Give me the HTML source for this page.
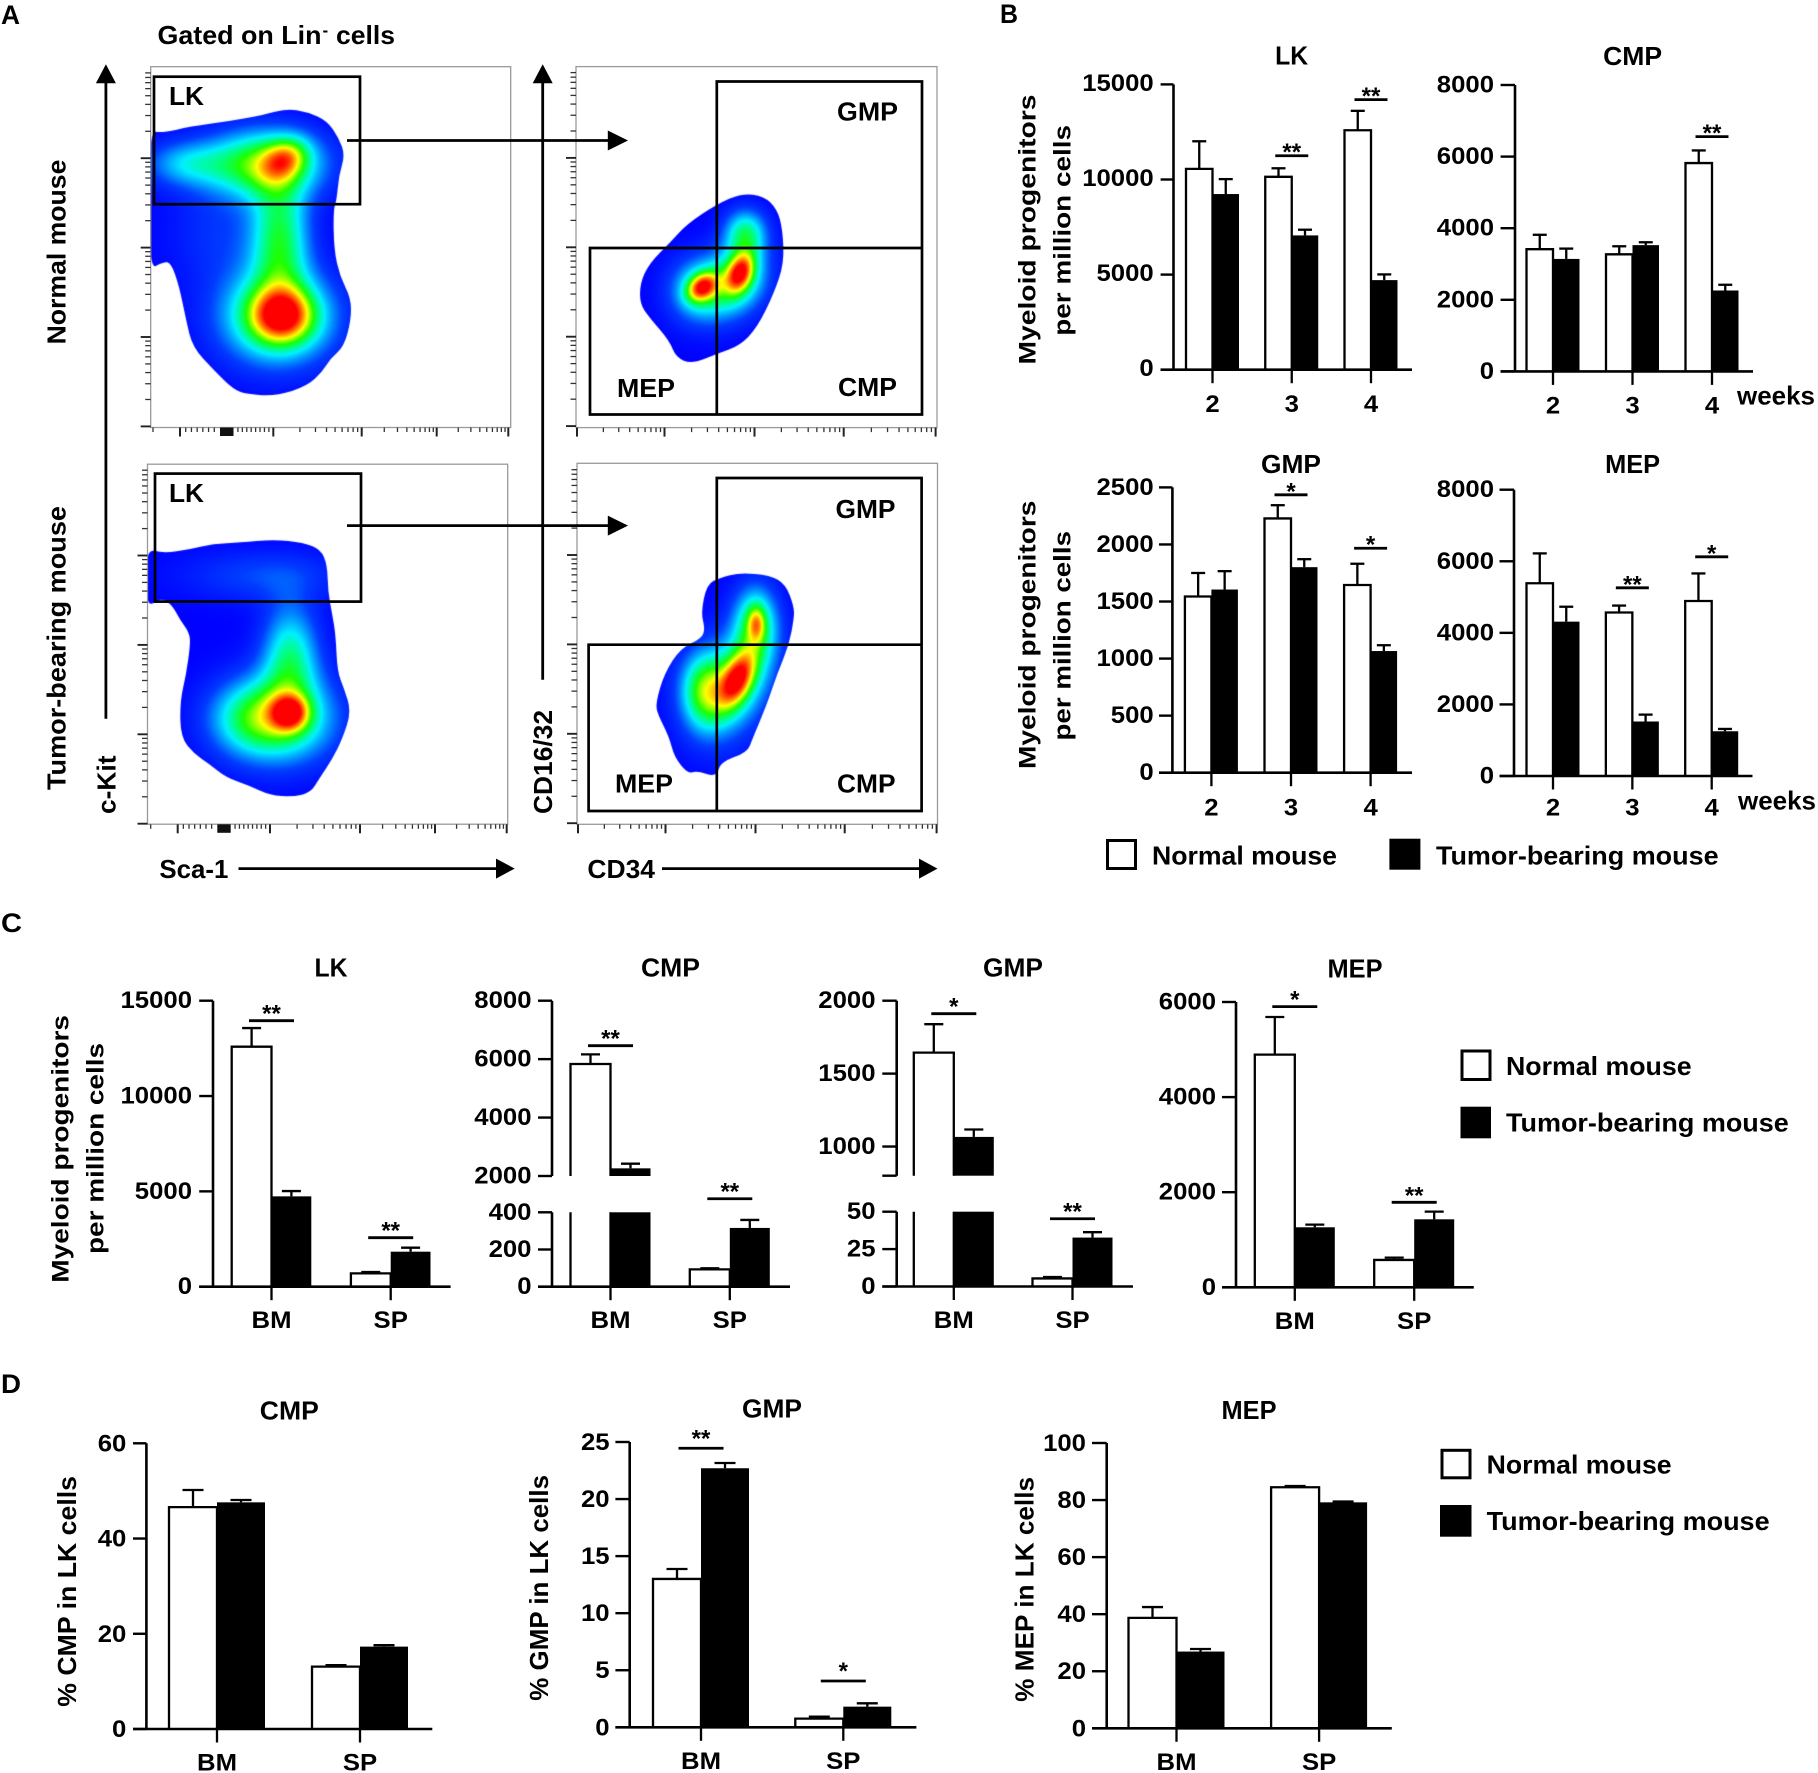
<!DOCTYPE html>
<html lang="en">
<head>
<meta charset="utf-8">
<title>Myeloid progenitors in normal and tumor-bearing mice</title>
<style>
html,body{margin:0;padding:0;background:#fff}
#figure{position:relative;width:1818px;height:1773px;overflow:hidden;background:#fff}
canvas{position:absolute;display:block}
svg{position:absolute;left:0;top:0}
text{font-family:"Liberation Sans",sans-serif;font-weight:bold;fill:#000}
.lb{font-size:26px}
.yt{font-size:24.5px}
.pl{font-size:27px}
.ln{stroke:#000;fill:none}
</style>
</head>
<body>
<div id="figure">
<canvas id="flow-tl" width="362" height="362" style="left:150px;top:66px"></canvas>
<canvas id="flow-tr" width="362" height="362" style="left:576px;top:66px"></canvas>
<canvas id="flow-bl" width="361" height="362" style="left:147px;top:463px"></canvas>
<canvas id="flow-br" width="362" height="362" style="left:577px;top:463px"></canvas>
<svg id="art" width="1818" height="1773" viewBox="0 0 1818 1773">
  <!-- Panel letters -->
  <text class="pl" x="1" y="24" textLength="19" lengthAdjust="spacingAndGlyphs">A</text>
  <text class="pl" x="1000" y="23" textLength="18" lengthAdjust="spacingAndGlyphs">B</text>
  <text class="pl" x="1" y="932" textLength="21" lengthAdjust="spacingAndGlyphs">C</text>
  <text class="pl" x="1" y="1393" textLength="20" lengthAdjust="spacingAndGlyphs">D</text>

  <!-- Panel A -->
  <g id="panel-a">
    <text class="lb" x="157.5" y="44" textLength="164" lengthAdjust="spacingAndGlyphs">Gated on Lin</text>
    <text x="322.5" y="36" style="font-size:17px">-</text>
    <text class="lb" x="336" y="44" textLength="59" lengthAdjust="spacingAndGlyphs">cells</text>

    <rect x="150.7" y="66.7" width="360" height="360.8" fill="none" stroke="#9a9a9a" stroke-width="1.3"/>
    <rect x="147.5" y="464.2" width="360.2" height="360" fill="none" stroke="#9a9a9a" stroke-width="1.3"/>
    <rect x="576" y="66.6" width="361" height="361" fill="none" stroke="#9a9a9a" stroke-width="1.3"/>
    <rect x="577" y="463.3" width="360.5" height="361" fill="none" stroke="#9a9a9a" stroke-width="1.3"/>
    <g id="flow-ticks"></g>

    <rect class="ln" x="154" y="76.7" width="206" height="127.5" stroke-width="2.7"/>
    <rect class="ln" x="155" y="473.6" width="206" height="128" stroke-width="2.7"/>
    <text class="lb" x="169" y="105" textLength="35" lengthAdjust="spacingAndGlyphs">LK</text>
    <text class="lb" x="169" y="502" textLength="35" lengthAdjust="spacingAndGlyphs">LK</text>

    <path class="ln" d="M716.8 248V81.5H922V414.5H590V248H922M716.8 248V414.5" stroke-width="2.7"/>
    <path class="ln" d="M716.8 644.7V478H921.6V811H588.6V644.7H921.6M716.8 644.7V811" stroke-width="2.7"/>
    <text class="lb" x="837" y="120.5" textLength="61" lengthAdjust="spacingAndGlyphs">GMP</text>
    <text class="lb" x="838" y="396" textLength="59" lengthAdjust="spacingAndGlyphs">CMP</text>
    <text class="lb" x="617" y="397" textLength="58" lengthAdjust="spacingAndGlyphs">MEP</text>
    <text class="lb" x="835.5" y="518" textLength="60" lengthAdjust="spacingAndGlyphs">GMP</text>
    <text class="lb" x="837" y="792.5" textLength="58.5" lengthAdjust="spacingAndGlyphs">CMP</text>
    <text class="lb" x="615" y="792.5" textLength="58" lengthAdjust="spacingAndGlyphs">MEP</text>

    <g>
      <line class="ln" x1="105.9" y1="718.7" x2="105.9" y2="80" stroke-width="2.8"/>
      <polygon points="105.9,64.3 115.9,83.2 95.9,83.2"/>
      <line class="ln" x1="542.7" y1="679.7" x2="542.7" y2="80" stroke-width="2.8"/>
      <polygon points="542.7,64.3 552.7,83.2 532.7,83.2"/>
      <line class="ln" x1="347" y1="140.5" x2="610" y2="140.5" stroke-width="2.8"/>
      <polygon points="628,140.5 607.8,130.5 607.8,150.5"/>
      <line class="ln" x1="347" y1="525.6" x2="610" y2="525.6" stroke-width="2.8"/>
      <polygon points="628,525.6 607.8,515.6 607.8,535.6"/>
      <line class="ln" x1="238.5" y1="868.6" x2="498" y2="868.6" stroke-width="2.8"/>
      <polygon points="514.7,868.6 496,858.6 496,878.6"/>
      <line class="ln" x1="662" y1="868.6" x2="921" y2="868.6" stroke-width="2.8"/>
      <polygon points="937.5,868.6 919,858.6 919,878.6"/>
    </g>

    <text class="lb" transform="translate(65.7,344.4) rotate(-90)" textLength="184.8" lengthAdjust="spacingAndGlyphs">Normal mouse</text>
    <text class="lb" transform="translate(65.7,790) rotate(-90)" textLength="284" lengthAdjust="spacingAndGlyphs">Tumor-bearing mouse</text>
    <text class="lb" transform="translate(115.4,814) rotate(-90)" textLength="58.5" lengthAdjust="spacingAndGlyphs">c-Kit</text>
    <text class="lb" transform="translate(552,814) rotate(-90)" textLength="104" lengthAdjust="spacingAndGlyphs">CD16/32</text>
    <text class="lb" x="159.4" y="878" textLength="69" lengthAdjust="spacingAndGlyphs">Sca-1</text>
    <text class="lb" x="587.4" y="878" textLength="67.6" lengthAdjust="spacingAndGlyphs">CD34</text>
  </g>

  <!-- Panel B -->
  <g id="panel-b">
    <text class="lb" x="1291.6" y="64.5" text-anchor="middle" textLength="33" lengthAdjust="spacingAndGlyphs">LK</text>
    <text class="lb" x="1632.6" y="64.9" text-anchor="middle" textLength="59" lengthAdjust="spacingAndGlyphs">CMP</text>
    <text class="lb" x="1291" y="473" text-anchor="middle" textLength="60" lengthAdjust="spacingAndGlyphs">GMP</text>
    <text class="lb" x="1632.6" y="473" text-anchor="middle" textLength="55" lengthAdjust="spacingAndGlyphs">MEP</text>
    <text class="yt" transform="translate(1035.3,364.5) rotate(-90)" textLength="270" lengthAdjust="spacingAndGlyphs">Myeloid progenitors</text>
    <text class="yt" transform="translate(1070.5,335.8) rotate(-90)" textLength="210.8" lengthAdjust="spacingAndGlyphs">per million cells</text>
    <text class="yt" transform="translate(1035.3,769) rotate(-90)" textLength="268.4" lengthAdjust="spacingAndGlyphs">Myeloid progenitors</text>
    <text class="yt" transform="translate(1070.5,740.5) rotate(-90)" textLength="209.5" lengthAdjust="spacingAndGlyphs">per million cells</text>
    <text class="lb" x="1737" y="404.7" textLength="78" lengthAdjust="spacingAndGlyphs">weeks</text>
    <text class="lb" x="1738" y="809.4" textLength="78" lengthAdjust="spacingAndGlyphs">weeks</text>
    <g id="chart-b-lk"></g>
    <g id="chart-b-cmp"></g>
    <g id="chart-b-gmp"></g>
    <g id="chart-b-mep"></g>
    <g>
      <rect x="1107.5" y="840.5" width="28" height="28" fill="#fff" stroke="#000" stroke-width="3"/>
      <text class="lb" x="1152" y="864.5" textLength="185" lengthAdjust="spacingAndGlyphs">Normal mouse</text>
      <rect x="1389.4" y="838.7" width="31" height="31" fill="#000"/>
      <text class="lb" x="1436" y="864.5" textLength="282.6" lengthAdjust="spacingAndGlyphs">Tumor-bearing mouse</text>
    </g>
  </g>

  <!-- Panel C -->
  <g id="panel-c">
    <text class="lb" x="331" y="976.7" text-anchor="middle" textLength="33" lengthAdjust="spacingAndGlyphs">LK</text>
    <text class="lb" x="670.5" y="976.7" text-anchor="middle" textLength="59" lengthAdjust="spacingAndGlyphs">CMP</text>
    <text class="lb" x="1013" y="976.7" text-anchor="middle" textLength="60" lengthAdjust="spacingAndGlyphs">GMP</text>
    <text class="lb" x="1355" y="977.5" text-anchor="middle" textLength="55" lengthAdjust="spacingAndGlyphs">MEP</text>
    <text class="yt" transform="translate(68.5,1282.7) rotate(-90)" textLength="267.7" lengthAdjust="spacingAndGlyphs">Myeloid progenitors</text>
    <text class="yt" transform="translate(103.5,1254) rotate(-90)" textLength="211" lengthAdjust="spacingAndGlyphs">per million cells</text>
    <g id="chart-c-lk"></g>
    <g id="chart-c-cmp"></g>
    <g id="chart-c-gmp"></g>
    <g id="chart-c-mep"></g>
    <g>
      <rect x="1462" y="1051" width="28" height="28.5" fill="#fff" stroke="#000" stroke-width="3"/>
      <text class="lb" x="1506" y="1075" textLength="185.6" lengthAdjust="spacingAndGlyphs">Normal mouse</text>
      <rect x="1460.5" y="1106.7" width="30.5" height="31.6" fill="#000"/>
      <text class="lb" x="1506" y="1131.7" textLength="282.8" lengthAdjust="spacingAndGlyphs">Tumor-bearing mouse</text>
    </g>
  </g>

  <!-- Panel D -->
  <g id="panel-d">
    <text class="lb" x="289.3" y="1419.3" text-anchor="middle" textLength="59" lengthAdjust="spacingAndGlyphs">CMP</text>
    <text class="lb" x="772" y="1417.3" text-anchor="middle" textLength="60" lengthAdjust="spacingAndGlyphs">GMP</text>
    <text class="lb" x="1249" y="1419" text-anchor="middle" textLength="55" lengthAdjust="spacingAndGlyphs">MEP</text>
    <text class="lb" transform="translate(75.8,1706.7) rotate(-90)" textLength="230.7" lengthAdjust="spacingAndGlyphs">% CMP in LK cells</text>
    <text class="lb" transform="translate(548,1700.7) rotate(-90)" textLength="225.7" lengthAdjust="spacingAndGlyphs">% GMP in LK cells</text>
    <text class="lb" transform="translate(1033.5,1701.7) rotate(-90)" textLength="224.7" lengthAdjust="spacingAndGlyphs">% MEP in LK cells</text>
    <g id="chart-d-cmp"></g>
    <g id="chart-d-gmp"></g>
    <g id="chart-d-mep"></g>
    <g>
      <rect x="1442" y="1450.3" width="28" height="27.5" fill="#fff" stroke="#000" stroke-width="3"/>
      <text class="lb" x="1486.6" y="1473.3" textLength="185" lengthAdjust="spacingAndGlyphs">Normal mouse</text>
      <rect x="1440" y="1505" width="31.5" height="31.7" fill="#000"/>
      <text class="lb" x="1486.6" y="1530" textLength="283" lengthAdjust="spacingAndGlyphs">Tumor-bearing mouse</text>
    </g>
  </g>
</svg>
</div>

<script>
/* ---------- Chart data ---------- */
const weekCategories = ['2', '3', '4'];
const tissueCategories = ['BM', 'SP'];

const bLkTicks = [0, 5000, 10000, 15000];
const bLkNormal = [10560, 10140, 12590];
const bLkNormalTop = [12010, 10590, 13610];
const bLkTumor = [9235, 7060, 4710];
const bLkTumorTop = [10020, 7360, 5010];
const bLkSig = [[1, 11250, '**'], [2, 14200, '**']];

const bCmpTicks = [0, 2000, 4000, 6000, 8000];
const bCmpNormal = [3414, 3270, 5820];
const bCmpNormalTop = [3816, 3495, 6172];
const bCmpTumor = [3142, 3527, 2260];
const bCmpTumorTop = [3430, 3607, 2420];
const bCmpSig = [[2, 6557, '**']];

const bGmpTicks = [0, 500, 1000, 1500, 2000, 2500];
const bGmpNormal = [1544, 2228, 1645];
const bGmpNormalTop = [1750, 2344, 1831];
const bGmpTumor = [1605, 1801, 1066];
const bGmpTumorTop = [1766, 1871, 1117];
const bGmpSig = [[1, 2435, '*'], [2, 1967, '*']];

const bMepTicks = [0, 2000, 4000, 6000, 8000];
const bMepNormal = [5387, 4569, 4890];
const bMepNormalTop = [6220, 4762, 5660];
const bMepTumor = [4313, 1523, 1250];
const bMepTumorTop = [4730, 1715, 1315];
const bMepSig = [[1, 5258, '**'], [2, 6124, '*']];

const cLkTicks = [0, 5000, 10000, 15000];
const cLkNormal = [12587, 699];
const cLkNormalTop = [13566, 770];
const cLkTumor = [4738, 1836];
const cLkTumorTop = [5017, 2045];
const cLkSig = [[0, 13951, '**'], [1, 2570, '**']];

const cCmpLowerTicks = [0, 200, 400];
const cCmpUpperTicks = [2000, 4000, 6000, 8000];
const cCmpUpperLabels = ['2000', '4000', '6000', '8000'];
const cCmpNormal = [5833, 93];
const cCmpNormalTop = [6163, 99];
const cCmpTumor = [2262, 316];
const cCmpTumorTop = [2422, 359];
const cCmpSig = [[0, 6460, '**'], [1, 473, '**']];

const cGmpLowerTicks = [0, 25, 50];
const cGmpUpperTicks = [800, 1000, 1500, 2000];
const cGmpUpperLabels = ['', '1000', '1500', '2000'];
const cGmpNormal = [1644, 5.4];
const cGmpNormalTop = [1839, 6.3];
const cGmpTumor = [1066, 32.7];
const cGmpTumorTop = [1117, 36.3];
const cGmpSig = [[0, 1911, '*'], [1, 45.3, '**']];

const cMepTicks = [0, 2000, 4000, 6000];
const cMepNormal = [4893, 575];
const cMepNormalTop = [5685, 624];
const cMepTumor = [1262, 1430];
const cMepTumorTop = [1318, 1591];
const cMepSig = [[0, 5902, '*'], [1, 1787, '**']];

const dCmpTicks = [0, 20, 40, 60];
const dCmpNormal = [46.6, 13.1];
const dCmpNormalTop = [50.2, 13.4];
const dCmpTumor = [47.6, 17.3];
const dCmpTumorTop = [48.1, 17.6];
const dCmpSig = [];

const dGmpTicks = [0, 5, 10, 15, 20, 25];
const dGmpNormal = [13.0, 0.76];
const dGmpNormalTop = [13.87, 0.93];
const dGmpTumor = [22.7, 1.81];
const dGmpTumorTop = [23.16, 2.1];
const dGmpSig = [[0, 24.45, '**'], [1, 4.06, '*']];

const dMepTicks = [0, 20, 40, 60, 80, 100];
const dMepNormal = [38.7, 84.5];
const dMepNormalTop = [42.5, 84.9];
const dMepTumor = [26.9, 79.2];
const dMepTumorTop = [27.8, 79.5];
const dMepSig = [];

/* ---------- Drawing helpers ---------- */
const NS = 'http://www.w3.org/2000/svg';
function mk(parent, tag, attrs) {
  const el = document.createElementNS(NS, tag);
  for (const k in attrs) el.setAttribute(k, attrs[k]);
  parent.appendChild(el);
  return el;
}
function linearScale(v0, v1, p0, p1) {
  return function (v) { return p0 + (v - v0) / (v1 - v0) * (p1 - p0); };
}
function axisY(cfg) {
  const topTick = cfg.ticks[cfg.ticks.length - 1];
  const lower = linearScale(0, topTick, cfg.zero, cfg.top);
  if (!cfg.upper) return lower;
  const uT = cfg.upper.ticks;
  const upper = linearScale(uT[0], uT[uT.length - 1], cfg.upper.p0, cfg.upper.p1);
  return function (v) { return v < uT[0] ? lower(v) : upper(v); };
}
function axisX(cfg) {
  return function (i) { return cfg.firstX + i * cfg.stepX; };
}
function drawNormalBar(g, x, w, yTopPx, yBottomPx, closedTop) {
  const fill = mk(g, 'rect', { x: x, y: yTopPx, width: w, height: Math.max(0, yBottomPx - yTopPx), fill: '#fff' });
  
  
  const d = closedTop
    ? 'M' + x + ' ' + yBottomPx + 'V' + yTopPx + 'H' + (x + w) + 'V' + yBottomPx
    : 'M' + x + ' ' + yTopPx + 'V' + yBottomPx + 'M' + (x + w) + ' ' + yTopPx + 'V' + yBottomPx;
  const outline = mk(g, 'path', { d: d, fill: 'none', stroke: '#000', 'stroke-width': 2.3 });
  
  
}
function drawTumorBar(g, x, w, yTopPx, yBottomPx) {
  const bar = mk(g, 'rect', { x: x, y: yTopPx, width: w, height: Math.max(0, yBottomPx - yTopPx), fill: '#000' });
  
  
}
function drawWhisker(g, cx, yBar, yCap, capW) {
  const stem = mk(g, 'line', { x1: cx, x2: cx, y1: yBar, y2: yCap, stroke: '#000', 'stroke-width': 2.3 });
  
  
  const cap = mk(g, 'line', { x1: cx - capW / 2, x2: cx + capW / 2, y1: yCap, y2: yCap, stroke: '#000', 'stroke-width': 2.3 });
  
  
}
function drawYTick(g, cfg, py, label) {
  const tick = mk(g, 'line', { x1: cfg.tickLeft, x2: cfg.axisX, y1: py, y2: py, stroke: '#000', 'stroke-width': 2.4 });
  
  
  if (label !== '') {
    const t = mk(g, 'text', { transform: 'translate(' + cfg.labelRight + ',' + (py + cfg.tickDy) + ') scale(1.05,1)', 'text-anchor': 'end', 'font-size': 24.5 });
    t.textContent = label;
    
    
  }
}
function drawChart(id, cfg) {
  const g = document.getElementById(id);
  const y = axisY(cfg);
  const x = axisX(cfg);
  const lowTop = cfg.ticks[cfg.ticks.length - 1];
  const bw = cfg.barW;

  cfg.cats.forEach(function (cat, i) {
    const cx = x(i);
    const vN = cfg.normal[i], vT = cfg.tumor[i];
    if (cfg.upper && vN > lowTop) {
      drawNormalBar(g, cx - bw, bw, y(lowTop), cfg.zero, false);
      drawNormalBar(g, cx - bw, bw, y(vN), cfg.upper.p0, true);
    } else {
      drawNormalBar(g, cx - bw, bw, y(vN), cfg.zero, true);
    }
    if (cfg.upper && vT > lowTop) {
      drawTumorBar(g, cx, bw, y(lowTop), cfg.zero);
      drawTumorBar(g, cx, bw, y(vT), cfg.upper.p0);
    } else {
      drawTumorBar(g, cx, bw, y(vT), cfg.zero);
    }
    drawWhisker(g, cx - bw / 2, y(vN), y(cfg.normalTop[i]), cfg.capW);
    drawWhisker(g, cx + bw / 2, y(vT), y(cfg.tumorTop[i]), cfg.capW);

    const xt = mk(g, 'line', { x1: cx, x2: cx, y1: cfg.zero, y2: cfg.zero + 13.5, stroke: '#000', 'stroke-width': 2.3 });
    
    
    const xl = mk(g, 'text', { transform: 'translate(' + cx + ',' + cfg.labelY + ') scale(1.05,1)', 'text-anchor': 'middle', 'font-size': 24.5 });
    xl.textContent = cat;
    
    
  });

  const yAxis = mk(g, 'line', { x1: cfg.axisX, x2: cfg.axisX, y1: cfg.zero, y2: cfg.top, stroke: '#000', 'stroke-width': 2.6 });
  
  
  if (cfg.upper) {
    const yUp = mk(g, 'line', { x1: cfg.axisX, x2: cfg.axisX, y1: cfg.upper.p0, y2: cfg.upper.p1, stroke: '#000', 'stroke-width': 2.6 });
    
    
    cfg.upper.ticks.forEach(function (v, i) { drawYTick(g, cfg, y(v), cfg.upper.labels[i]); });
  }
  cfg.ticks.forEach(function (v) { drawYTick(g, cfg, y(v), String(v)); });
  const xAxis = mk(g, 'line', { x1: cfg.tickLeft, x2: cfg.xEnd, y1: cfg.zero, y2: cfg.zero, stroke: '#000', 'stroke-width': 2.6 });
  
  

  cfg.sig.forEach(function (s) {
    const cx = x(s[0]), py = y(s[1]);
    const ln = mk(g, 'line', { x1: cx - cfg.sigW / 2, x2: cx + cfg.sigW / 2, y1: py, y2: py, stroke: '#000', 'stroke-width': 2.8 });
    
    
    const st = mk(g, 'text', { x: cx, y: py + cfg.sigDy, 'text-anchor': 'middle', 'font-size': 24 });
    st.textContent = s[2];
    
    
  });
}

/* ---------- Charts ---------- */
drawChart('chart-b-lk', { cats: weekCategories, normal: bLkNormal, normalTop: bLkNormalTop, tumor: bLkTumor, tumorTop: bLkTumorTop, ticks: bLkTicks, sig: bLkSig,
  axisX: 1173.5, tickLeft: 1160.6, xEnd: 1412, firstX: 1212.5, stepX: 79.25, barW: 26.5, capW: 14, zero: 369.7, top: 84.4, labelRight: 1153.7, labelY: 412.2, sigW: 33, sigDy: 4.5, tickDy: 6.5 });
drawChart('chart-b-cmp', { cats: weekCategories, normal: bCmpNormal, normalTop: bCmpNormalTop, tumor: bCmpTumor, tumorTop: bCmpTumorTop, ticks: bCmpTicks, sig: bCmpSig,
  axisX: 1515, tickLeft: 1500.6, xEnd: 1753, firstX: 1553, stepX: 79.5, barW: 26.5, capW: 14, zero: 371.4, top: 85, labelRight: 1494, labelY: 413.3, sigW: 33, sigDy: 4.5, tickDy: 7.5 });
drawChart('chart-b-gmp', { cats: weekCategories, normal: bGmpNormal, normalTop: bGmpNormalTop, tumor: bGmpTumor, tumorTop: bGmpTumorTop, ticks: bGmpTicks, sig: bGmpSig,
  axisX: 1172.4, tickLeft: 1159, xEnd: 1412, firstX: 1211.4, stepX: 79.6, barW: 26.5, capW: 14, zero: 772.7, top: 487.4, labelRight: 1153.7, labelY: 815.7, sigW: 33, sigDy: 4.5, tickDy: 7.5 });
drawChart('chart-b-mep', { cats: weekCategories, normal: bMepNormal, normalTop: bMepNormalTop, tumor: bMepTumor, tumorTop: bMepTumorTop, ticks: bMepTicks, sig: bMepSig,
  axisX: 1514, tickLeft: 1499.5, xEnd: 1752.5, firstX: 1553, stepX: 79.35, barW: 26.5, capW: 14, zero: 776, top: 489.7, labelRight: 1494, labelY: 815.7, sigW: 33, sigDy: 4.5, tickDy: 7.5 });

drawChart('chart-c-lk', { cats: tissueCategories, normal: cLkNormal, normalTop: cLkNormalTop, tumor: cLkTumor, tumorTop: cLkTumorTop, ticks: cLkTicks, sig: cLkSig,
  axisX: 213, tickLeft: 199.2, xEnd: 450.6, firstX: 271.5, stepX: 119.2, barW: 39.8, capW: 19, zero: 1286.7, top: 1000.7, labelRight: 192, labelY: 1328, sigW: 45, sigDy: 1, tickDy: 7.5 });
drawChart('chart-c-cmp', { cats: tissueCategories, normal: cCmpNormal, normalTop: cCmpNormalTop, tumor: cCmpTumor, tumorTop: cCmpTumorTop, ticks: cCmpLowerTicks, sig: cCmpSig,
  upper: { ticks: cCmpUpperTicks, labels: cCmpUpperLabels, p0: 1176, p1: 1000.7 },
  axisX: 552, tickLeft: 538, xEnd: 790, firstX: 610.5, stepX: 119.3, barW: 40, capW: 19, zero: 1286.7, top: 1212.3, labelRight: 531.5, labelY: 1328, sigW: 45, sigDy: 1, tickDy: 7.5 });
drawChart('chart-c-gmp', { cats: tissueCategories, normal: cGmpNormal, normalTop: cGmpNormalTop, tumor: cGmpTumor, tumorTop: cGmpTumorTop, ticks: cGmpLowerTicks, sig: cGmpSig,
  upper: { ticks: cGmpUpperTicks, labels: cGmpUpperLabels, p0: 1175.7, p1: 1000.7 },
  axisX: 896.7, tickLeft: 882.3, xEnd: 1133, firstX: 953.8, stepX: 118.7, barW: 40, capW: 19, zero: 1286.5, top: 1211.7, labelRight: 875.5, labelY: 1328, sigW: 45, sigDy: 1, tickDy: 7.5 });
drawChart('chart-c-mep', { cats: tissueCategories, normal: cMepNormal, normalTop: cMepNormalTop, tumor: cMepTumor, tumorTop: cMepTumorTop, ticks: cMepTicks, sig: cMepSig,
  axisX: 1236, tickLeft: 1222, xEnd: 1473.8, firstX: 1294.8, stepX: 119.4, barW: 40, capW: 19, zero: 1287.3, top: 1002, labelRight: 1216, labelY: 1329, sigW: 45, sigDy: 1, tickDy: 7.5 });

drawChart('chart-d-cmp', { cats: tissueCategories, normal: dCmpNormal, normalTop: dCmpNormalTop, tumor: dCmpTumor, tumorTop: dCmpTumorTop, ticks: dCmpTicks, sig: dCmpSig,
  axisX: 146.4, tickLeft: 133, xEnd: 432.3, firstX: 217, stepX: 143, barW: 48, capW: 21, zero: 1729, top: 1443.3, labelRight: 126.3, labelY: 1770.7, sigW: 45, sigDy: -2, tickDy: 8 });
drawChart('chart-d-gmp', { cats: tissueCategories, normal: dGmpNormal, normalTop: dGmpNormalTop, tumor: dGmpTumor, tumorTop: dGmpTumorTop, ticks: dGmpTicks, sig: dGmpSig,
  axisX: 629.7, tickLeft: 615.4, xEnd: 916.4, firstX: 701, stepX: 142.3, barW: 48, capW: 21, zero: 1727.3, top: 1442, labelRight: 609.6, labelY: 1769, sigW: 45, sigDy: -2, tickDy: 8 });
drawChart('chart-d-mep', { cats: tissueCategories, normal: dMepNormal, normalTop: dMepNormalTop, tumor: dMepTumor, tumorTop: dMepTumorTop, ticks: dMepTicks, sig: dMepSig,
  axisX: 1106.7, tickLeft: 1092, xEnd: 1391.8, firstX: 1176.5, stepX: 142.6, barW: 48, capW: 21, zero: 1728.3, top: 1443, labelRight: 1086, labelY: 1770, sigW: 45, sigDy: -2, tickDy: 8 });

/* ---------- Flow cytometry axis ticks ---------- */
const flowTicks = document.getElementById('flow-ticks');
function flowLeftTicks(axisPx, firstMajor) {
  for (let k = 0; k < 4; k++) {
    const base = firstMajor + k * 89.4;
    const major = mk(flowTicks, 'line', { x1: axisPx - 10, x2: axisPx, y1: base, y2: base, stroke: '#222', 'stroke-width': 1.9 });
    
    
    for (let m = 2; m < 10; m++) {
      const py = base - Math.log10(m) * 89.4;
      const minor = mk(flowTicks, 'line', { x1: axisPx - 5.5, x2: axisPx, y1: py, y2: py, stroke: '#333', 'stroke-width': 1.3 });
      
      
    }
  }
}
function flowBottomMajor(axisPx, px) {
  const major = mk(flowTicks, 'line', { x1: px, x2: px, y1: axisPx, y2: axisPx + 9, stroke: '#222', 'stroke-width': 2 });
  
  
}
function flowBottomMinor(axisPx, px) {
  const minor = mk(flowTicks, 'line', { x1: px, x2: px, y1: axisPx, y2: axisPx + 4.5, stroke: '#333', 'stroke-width': 1.3 });
  
  
}
function flowBottomLogTicks(axisPx, majors) {
  majors.forEach(function (mx, i) {
    flowBottomMajor(axisPx, mx);
    if (i + 1 < majors.length) {
      const span = majors[i + 1] - mx;
      for (let m = 2; m < 10; m++) flowBottomMinor(axisPx, mx + Math.log10(m) * span);
    }
  });
}
function flowBottomCluster(axisPx, first, clusterL, clusterR, second) {
  flowBottomMinor(axisPx, first - 27);
  for (let k = 1; k <= 6; k++) flowBottomMinor(axisPx, first + (clusterL - first) * k / 7);
  for (let k = 1; k <= 8; k++) flowBottomMinor(axisPx, clusterR + (second - clusterR) * k / 9);
  const cluster = mk(flowTicks, 'rect', { x: clusterL, y: axisPx, width: clusterR - clusterL, height: 8.5, fill: '#111' });
  
  
}
flowLeftTicks(150.7, 158.2);
flowLeftTicks(147.5, 555.5);
flowLeftTicks(576, 157.9);
flowLeftTicks(577, 555);
flowBottomMajor(427.5, 180);
flowBottomCluster(427.5, 180, 220, 233.5, 273.3);
flowBottomLogTicks(427.5, [273.3, 361.7, 436.7, 508.3]);
flowBottomMajor(824.3, 177.7);
flowBottomCluster(824.3, 177.7, 217.3, 230.7, 270);
flowBottomLogTicks(824.3, [270, 360, 435, 506.7]);
flowBottomLogTicks(427.6, [577, 664.5, 754.5, 843.7, 935.6]);
flowBottomLogTicks(824.3, [578, 665.5, 755.5, 844.7, 936.6]);

/* ---------- Density plots: Gaussian field + jet colormap ---------- */
const jetStops = [
  [0, 0, 0, 255], [0.15, 0, 60, 255], [0.36, 0, 240, 255], [0.47, 0, 255, 130],
  [0.58, 30, 255, 0], [0.74, 255, 255, 0], [0.88, 255, 110, 0], [1, 255, 0, 0]
];
function jet(v) {
  if (v >= 1) return jetStops[jetStops.length - 1].slice(1);
  for (let i = 1; i < jetStops.length; i++) {
    if (v <= jetStops[i][0]) {
      const a = jetStops[i - 1], b = jetStops[i];
      const t = (v - a[0]) / (b[0] - a[0]);
      return [a[1] + (b[1] - a[1]) * t, a[2] + (b[2] - a[2]) * t, a[3] + (b[3] - a[3]) * t];
    }
  }
  return [255, 0, 0];
}
/* outline and blobs are expressed in 3x crop space with origin (cropX, cropY) */
function paintDensity(id, ox, oy, cropX, cropY, outline, blobs) {
  const cv = document.getElementById(id);
  const w = cv.width, h = cv.height;
  const off = document.createElement('canvas');
  off.width = w; off.height = h;
  const octx = off.getContext('2d');
  const img = octx.createImageData(w, h);
  const pre = blobs.map(function (b) {
    const a = b[4] * Math.PI / 180;
    return { cx: b[0], cy: b[1], sx: b[2], sy: b[3], c: Math.cos(a), s: Math.sin(a), amp: b[5] };
  });
  let p = 0;
  for (let j = 0; j < h; j++) {
    const zy = (j + oy - cropY) * 3;
    for (let i = 0; i < w; i++) {
      const zx = (i + ox - cropX) * 3;
      let v = 0;
      for (let n = 0; n < pre.length; n++) {
        const g = pre[n];
        const dx = zx - g.cx, dy = zy - g.cy;
        const u = (dx * g.c + dy * g.s) / g.sx;
        const t = (-dx * g.s + dy * g.c) / g.sy;
        v += g.amp * Math.exp(-0.5 * (u * u + t * t));
      }
      const c = jet(v);
      img.data[p++] = c[0]; img.data[p++] = c[1]; img.data[p++] = c[2]; img.data[p++] = 255;
    }
  }
  octx.putImageData(img, 0, 0);
  const ctx = cv.getContext('2d');
  ctx.save();
  ctx.setTransform(1 / 3, 0, 0, 1 / 3, cropX - ox, cropY - oy);
  ctx.beginPath();
  const n = outline.length;
  const mid = function (a, b) { return [(a[0] + b[0]) / 2, (a[1] + b[1]) / 2]; };
  const s0 = mid(outline[n - 1], outline[0]);
  ctx.moveTo(s0[0], s0[1]);
  for (let i = 0; i < n; i++) {
    const m = mid(outline[i], outline[(i + 1) % n]);
    ctx.quadraticCurveTo(outline[i][0], outline[i][1], m[0], m[1]);
  }
  ctx.closePath();
  ctx.clip();
  ctx.setTransform(1, 0, 0, 1, 0, 0);
  ctx.drawImage(off, 0, 0);
  ctx.restore();
}
paintDensity('flow-tl', 150, 66, 130, 60,
  [[55,213],[100,218],[180,200],[300,183],[400,165],[470,146],[530,155],[592,183],[627,235],[645,285],[627,345],[620,420],[610,450],[612,570],[630,650],[663,715],[663,780],[642,860],[602,895],[577,935],[532,978],[440,1008],[350,1003],[310,988],[253,932],[188,862],[168,780],[148,680],[123,608],[100,606],[55,630]],
  [[465,295,50,38,-35,0.36],[400,310,125,72,0,0.6],[160,310,85,48,0,0.26],[450,530,62,130,0,0.48],
   [455,765,62,54,0,0.55],[440,770,120,100,0,0.58],[270,520,110,110,0,0.12]]);
paintDensity('flow-tr', 576, 66, 560, 180,
  [[240,310],[268,250],[330,188],[380,133],[470,73],[545,40],[612,48],[652,88],[668,150],[672,250],[642,340],[592,442],[540,497],[470,522],[395,552],[348,532],[328,482],[268,412],[240,372]],
  [[425,320,34,26,-40,0.58],[425,330,68,70,0,0.44],[540,275,26,42,20,0.58],[540,290,60,75,15,0.44],[555,155,45,50,0,0.42]]);
paintDensity('flow-bl', 147, 463, 130, 455,
  [[46,280],[100,295],[180,283],[250,266],[330,263],[430,253],[520,263],[572,283],[592,330],[594,410],[607,480],[617,540],[622,650],[642,700],[664,770],[637,852],[607,912],[567,972],[542,1013],[490,1025],[420,1021],[358,992],[288,967],[238,927],[193,897],[152,847],[150,740],[168,660],[181,570],[178,532],[148,492],[128,452],[95,428],[46,460]],
  [[478,772,38,36,0,0.56],[450,790,120,95,0,0.5],[360,790,90,75,0,0.25],[480,600,60,110,0,0.42],[400,360,170,55,0,0.16]]);
paintDensity('flow-br', 577, 463, 620, 550,
  [[107,460],[133,370],[183,293],[245,266],[255,235],[243,190],[260,103],[300,83],[360,68],[450,76],[497,103],[522,170],[522,205],[507,285],[472,370],[442,460],[397,567],[382,607],[300,637],[290,682],[230,662],[205,672],[163,622],[148,562],[113,492]],
  [[352,385,30,58,22,0.55],[350,390,65,105,22,0.42],[408,220,18,36,0,0.32],[405,215,48,80,0,0.46],[250,420,50,80,0,0.46],[300,430,110,140,0,0.1]]);
</script>
</body>
</html>
